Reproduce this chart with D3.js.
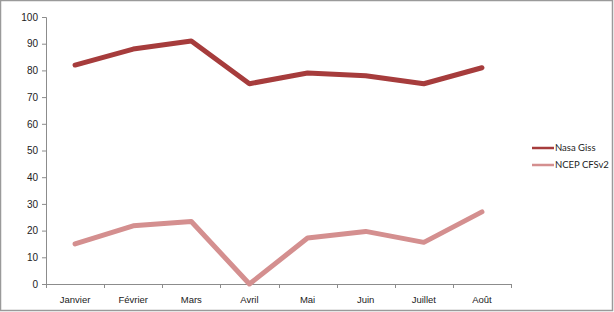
<!DOCTYPE html>
<html>
<head>
<meta charset="utf-8">
<script src="https://cdn.jsdelivr.net/npm/d3@7"></script>
<style>
  html, body { margin: 0; padding: 0; background: #fff; }
  #app { width: 614px; height: 312px; }
</style>
</head>
<body>
<div id="app"></div>
<script>
const months = ["Janvier", "Février", "Mars", "Avril", "Mai", "Juin", "Juillet", "Août"];
const nasaGiss = [82, 88, 91, 75, 79, 78, 75, 81];
const ncepCfsv2 = [15, 21.8, 23.4, 0, 17.2, 19.7, 15.6, 27];
const yTicks = [0, 10, 20, 30, 40, 50, 60, 70, 80, 90, 100];

const seriesList = [
  {name: "Nasa Giss", values: nasaGiss, color: "#a63c3c"},
  {name: "NCEP CFSv2", values: ncepCfsv2, color: "#d48f8f"}
];

function drawPlot(targetDiv) {
  const width = 614;
  const height = 312;
  const margin = {top: 17, bottom: 28, left: 46, right: 103};

  const svg = d3.select(targetDiv).append("svg")
    .attr("width", width)
    .attr("height", height)
    .attr("viewBox", [0, 0, width, height])
    .style("font-family", "Lato, 'Open Sans', sans-serif");

  // outer frame
  svg.append("rect")
    .attr("x", 0.5).attr("y", 0.5)
    .attr("width", width - 2).attr("height", height - 2)
    .attr("fill", "none").attr("stroke", "#9a9a9a").attr("stroke-width", 1.5);

  const x = d3.scaleBand()
    .domain(months)
    .range([margin.left, width - margin.right]);

  const y = d3.scaleLinear()
    .domain([0, 100])
    .range([height - margin.bottom, margin.top]);

  // y axis
  const yAxis = svg.append("g")
    .attr("transform", `translate(${margin.left},0)`)
    .call(d3.axisLeft(y).tickValues(yTicks).tickSize(4).tickPadding(4));
  yAxis.selectAll("path, line").attr("stroke", "#8c8c8c");
  yAxis.selectAll("text").attr("font-size", 10).attr("fill", "#222").style("font-family", "inherit");

  // x axis, ticks sit on category boundaries
  const xAxis = svg.append("g")
    .attr("transform", `translate(0,${y(0)})`)
    .call(d3.axisBottom(x).tickSize(0).tickPadding(12));
  xAxis.select("path").attr("stroke", "#8c8c8c");
  xAxis.selectAll("text").attr("font-size", 9.5).attr("fill", "#222").style("font-family", "inherit");
  const bounds = months.map(m => x(m)).concat([x.range()[1]]);
  xAxis.selectAll(".bound").data(bounds).join("line")
    .attr("class", "bound")
    .attr("x1", d => Math.round(d) + 0.5).attr("x2", d => Math.round(d) + 0.5)
    .attr("y1", 0).attr("y2", 4)
    .attr("stroke", "#8c8c8c");

  // lines
  const line = d3.line()
    .x((d, i) => x(months[i]) + x.bandwidth() / 2)
    .y(d => y(d));

  svg.selectAll(".series").data(seriesList).join("path")
    .attr("class", "series")
    .attr("d", d => line(d.values))
    .attr("fill", "none")
    .attr("stroke", d => d.color)
    .attr("stroke-width", 5)
    .attr("stroke-linejoin", "round")
    .attr("stroke-linecap", "round");

  // legend
  const legend = svg.append("g").attr("transform", "translate(532,148)");
  const items = legend.selectAll("g").data(seriesList).join("g")
    .attr("transform", (d, i) => `translate(0,${i * 17})`);
  items.append("line")
    .attr("x1", 0).attr("x2", 22)
    .attr("stroke", d => d.color).attr("stroke-width", 2.5);
  items.append("text")
    .attr("x", 23).attr("dy", "0.35em")
    .attr("font-size", 9.5).attr("fill", "#222")
    .text(d => d.name);
}

function main() {
  drawPlot("#app");
}

document.addEventListener("DOMContentLoaded", main);
</script>
</body>
</html>
